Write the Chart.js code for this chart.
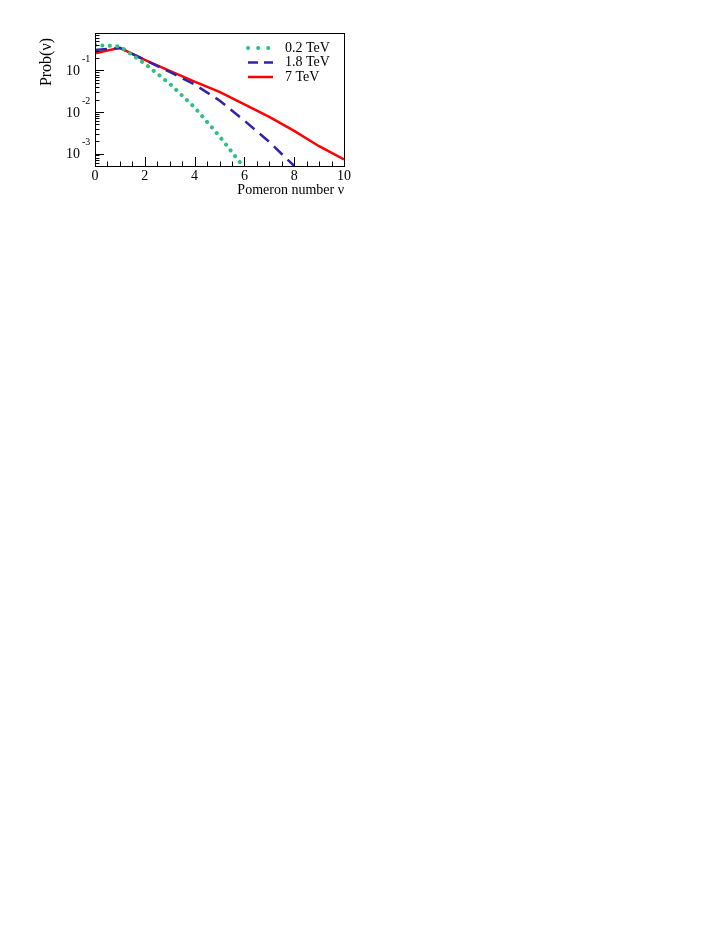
<!DOCTYPE html>
<html>
<head>
<meta charset="utf-8">
<script src="https://cdn.jsdelivr.net/npm/chart.js@4.4.1/dist/chart.umd.min.js"></script>
<style>
  html, body { margin: 0; padding: 0; background: #fff; }
  canvas { display: block; }
</style>
</head>
<body>
<canvas id="chart-pomeron" width="723" height="935"></canvas>
<script>
// pomeron number distribution, three energies
const nu = [0, 1, 2, 3, 4, 5, 6, 7, 8, 9, 10]
const prob02 = [0.41, 0.38, 0.146, 0.048, 0.0129, 0.0026, 0.00045, null, null, null, null]
const prob18 = [0.31, 0.35, 0.18, 0.092, 0.046, 0.019, 0.0062, 0.0019, 0.0005, null, null]
const prob7 = [0.26, 0.35, 0.18, 0.098, 0.054, 0.0305, 0.0153, 0.0076, 0.0035, 0.0015, 0.00072]
const seriesNames = ["0.2 TeV", "1.8 TeV", "7 TeV"]

const xTickValues = [0, 2, 4, 6, 8, 10]
const yTickExponents = [-1, -2, -3]

const FONT = "'Liberation Serif', 'DejaVu Serif', serif"

const rootAxes = {
  id: "rootAxes",
  afterDatasetsDraw(chart) {
    const { ctx, chartArea: a, scales } = chart
    const x = scales.x
    const y = scales.y
    ctx.save()
    ctx.strokeStyle = "#000"
    ctx.lineWidth = 1
    ctx.strokeRect(a.left + 0.5, a.top + 0.5, a.right - a.left, a.bottom - a.top)

    // x ticks, inside the frame
    ctx.beginPath()
    for (let v = x.min; v <= x.max + 1e-9; v += 0.5) {
      const px = Math.round(x.getPixelForValue(v)) + 0.5
      const len = Math.abs(v % 2) < 1e-9 ? 9 : 4.5
      ctx.moveTo(px, a.bottom)
      ctx.lineTo(px, a.bottom - len)
    }
    // y ticks (log decades with minors)
    for (let e = -4; e <= 0; e++) {
      for (let m = 1; m <= 9; m++) {
        const v = m * Math.pow(10, e)
        if (v < y.min || v > y.max) continue
        const py = Math.round(y.getPixelForValue(v)) + 0.5
        const len = m === 1 ? 9 : 4.5
        ctx.moveTo(a.left, py)
        ctx.lineTo(a.left + len, py)
      }
    }
    ctx.stroke()

    ctx.fillStyle = "#000"
    ctx.font = "14px " + FONT
    ctx.textAlign = "center"
    ctx.textBaseline = "middle"
    xTickValues.forEach((v) => {
      ctx.fillText(String(v), x.getPixelForValue(v), a.bottom + 10)
    })

    yTickExponents.forEach((e) => {
      const py = y.getPixelForValue(Math.pow(10, e))
      ctx.font = "14px " + FONT
      ctx.textAlign = "right"
      ctx.textBaseline = "middle"
      ctx.fillText("10", a.left - 15, py + 1)
      ctx.font = "10px " + FONT
      ctx.textAlign = "left"
      ctx.fillText(String(e), a.left - 13, py - 11)
    })

    // axis titles
    ctx.font = "14px " + FONT
    ctx.textAlign = "right"
    ctx.textBaseline = "middle"
    ctx.fillText("Pomeron number \u03bd", a.right, a.bottom + 24)
    ctx.save()
    ctx.font = "16px " + FONT
    ctx.translate(a.left - 48, a.top + 5)
    ctx.rotate(-Math.PI / 2)
    ctx.textAlign = "right"
    ctx.fillText("Prob(\u03bd)", 0, 0)
    ctx.restore()

    // legend
    chart.data.datasets.forEach((ds, i) => {
      const ly = a.top + 15 + i * 14.5
      ctx.save()
      ctx.strokeStyle = ds.borderColor
      ctx.lineWidth = ds.borderWidth
      ctx.lineCap = ds.borderCapStyle || "butt"
      ctx.setLineDash(ds.legendDash || ds.borderDash || [])
      ctx.beginPath()
      ctx.moveTo(a.right - 96, ly)
      ctx.lineTo(a.right - 71, ly)
      ctx.stroke()
      ctx.restore()
      ctx.font = "14px " + FONT
      ctx.textAlign = "left"
      ctx.textBaseline = "middle"
      ctx.fillText(ds.label, a.right - 59, ly)
    })
    ctx.restore()
  },
}

new Chart(document.getElementById("chart-pomeron"), {
  type: "line",
  data: {
    labels: nu,
    datasets: [
      {
        label: seriesNames[0],
        data: prob02,
        borderColor: "#2fbf80",
        borderWidth: 4,
        borderCapStyle: "round",
        borderDash: [0.1, 7.3],
        legendDash: [0.1, 10],
        pointRadius: 0,
        spanGaps: false,
      },
      {
        label: seriesNames[1],
        data: prob18,
        borderColor: "#3322aa",
        borderWidth: 2.5,
        borderDash: [12, 7],
        legendDash: [10, 6],
        pointRadius: 0,
      },
      {
        label: seriesNames[2],
        data: prob7,
        borderColor: "#ff0000",
        borderWidth: 2.5,
        pointRadius: 0,
      },
    ],
  },
  options: {
    responsive: false,
    animation: false,
    layout: { padding: { left: 95, top: 33, right: 379, bottom: 769 } },
    plugins: { legend: { display: false }, tooltip: { enabled: false } },
    elements: { line: { tension: 0 } },
    scales: {
      x: { type: "linear", min: 0, max: 10, display: false },
      y: { type: "logarithmic", min: 0.0005, max: 0.8, display: false },
    },
  },
  plugins: [rootAxes],
})
</script>
</body>
</html>
